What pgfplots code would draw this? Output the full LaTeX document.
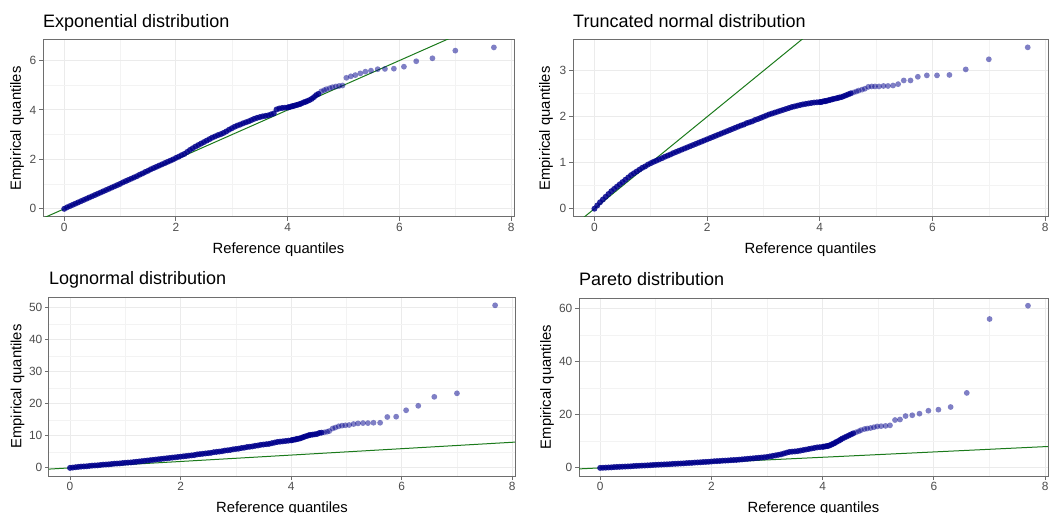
\documentclass[border=0pt]{standalone}
\usepackage{fontspec}
\setmainfont{Liberation Sans}
\usepackage{pgfplots}
\usepackage{pgfplotstable}
\pgfplotsset{compat=1.18}

\definecolor{ptblue}{HTML}{00008B}
\definecolor{qqgreen}{HTML}{1B7A1B}
\definecolor{frame}{HTML}{6E6E6E}
\definecolor{gridmaj}{HTML}{EBEBEB}
\definecolor{gridmin}{HTML}{F3F3F3}
\definecolor{ticktxt}{HTML}{4D4D4D}

% x = reference quantile, then empirical quantiles of the four samples
\pgfplotstableread{
x     expo  tnorm  lnorm  pareto
7.69  6.53  3.51   50.8   61.0
7.00  6.40  3.25   23.3   56.0
6.59  6.09  3.03   22.2   28.2
6.30  5.97  2.91   19.4   22.9
6.08  5.75  2.90   18.0   21.9
5.90  5.67  2.90   16.0   21.5
5.74  5.66  2.87   15.9   20.4
5.61  5.65  2.79   14.1   19.8
5.49  5.59  2.79   14.1   19.5
5.39  5.55  2.71   14.0   18.2
5.30  5.48  2.68   14.0   18.0
5.21  5.41  2.67   13.9   16.0
5.13  5.36  2.67   13.7   15.8
5.05  5.30  2.66   13.4   15.7
4.98  4.99  2.66   13.3   15.6
4.92  4.97  2.66   13.2   15.3
4.86  4.95  2.65   13.0   15.0
4.80  4.92  2.61   12.6   14.8
4.75  4.88  2.59   12.3   14.6
4.69  4.84  2.57   11.5   14.2
4.65  4.80  2.55   11.3   13.8
4.60  4.75  2.53   11.1   13.4
4.55  4.65  2.51   11.0   13.0
4.51  4.60  2.49   10.9   12.6
4.47  4.52  2.47   10.6   12.2
4.43  4.45  2.45   10.5   11.8
4.39  4.40  2.43   10.4   11.4
4.35  4.36  2.42   10.3   11.0
4.32  4.33  2.41   10.2   10.6
4.29  4.31  2.40   10.0   10.2
4.25  4.27  2.39   9.8    9.8
4.22  4.24  2.38   9.6    9.4
4.19  4.22  2.37   9.4    9.1
4.16  4.20  2.36   9.2    8.8
4.13  4.18  2.35   9.1    8.5
4.10  4.16  2.34   9.0    8.3
4.08  4.15  2.34   8.9    8.2
4.05  4.13  2.33   8.8    8.1
4.02  4.11  2.32   8.7    8.0
4.00  4.10  2.32   8.6    7.9
3.95  4.09  2.315  8.5    7.8
3.90  4.08  2.31   8.4    7.7
3.85  4.06  2.30   8.3    7.5
3.80  4.02  2.29   8.2    7.3
3.75  3.86  2.28   8.1    7.1
3.70  3.82  2.27   7.9    6.9
3.65  3.78  2.255  7.7    6.7
3.60  3.76  2.24   7.5    6.5
3.55  3.74  2.225  7.4    6.3
3.50  3.71  2.21   7.3    6.2
3.45  3.68  2.19   7.2    6.1
3.40  3.64  2.17   7.0    6.0
3.35  3.59  2.15   6.9    5.7
3.30  3.54  2.13   6.7    5.4
3.25  3.50  2.11   6.6    5.1
3.20  3.46  2.09   6.5    4.9
3.15  3.41  2.07   6.3    4.7
3.10  3.37  2.05   6.2    4.5
3.05  3.32  2.025  6.0    4.3
3.00  3.26  2.00   5.9    4.1
2.95  3.20  1.975  5.8    4.0
2.90  3.13  1.95   5.6    3.9
2.85  3.07  1.93   5.5    3.8
2.80  3.02  1.90   5.4    3.7
2.75  2.98  1.88   5.2    3.6
2.70  2.93  1.86   5.1    3.5
2.65  2.88  1.83   5.0    3.4
2.60  2.82  1.81   4.9    3.3
2.55  2.76  1.785  4.7    3.2
2.50  2.70  1.76   4.6    3.1
2.45  2.64  1.735  4.5    3.0
2.40  2.58  1.71   4.4    2.95
2.35  2.52  1.685  4.3    2.9
2.30  2.45  1.66   4.2    2.8
2.25  2.38  1.635  4.0    2.75
2.20  2.30  1.61   3.9    2.7
2.15  2.22  1.585  3.8    2.6
2.10  2.17  1.56   3.7    2.55
2.05  2.11  1.535  3.6    2.5
2.00  2.06  1.51   3.5    2.4
1.95  2.00  1.485  3.4    2.3
1.90  1.95  1.46   3.3    2.25
1.85  1.90  1.435  3.2    2.2
1.80  1.85  1.41   3.1    2.1
1.75  1.80  1.385  3.0    2.05
1.70  1.75  1.36   2.9    2.0
1.65  1.70  1.335  2.8    1.9
1.60  1.65  1.31   2.7    1.85
1.55  1.60  1.285  2.6    1.8
1.50  1.54  1.26   2.5    1.7
1.45  1.49  1.235  2.4    1.65
1.40  1.43  1.21   2.3    1.6
1.35  1.38  1.18   2.2    1.55
1.30  1.32  1.155  2.1    1.5
1.25  1.27  1.13   2.0    1.4
1.20  1.22  1.10   1.9    1.35
1.15  1.17  1.075  1.8    1.3
1.10  1.12  1.045  1.7    1.25
1.05  1.07  1.02   1.65   1.2
1.00  1.01  0.99   1.6    1.15
0.95  0.96  0.96   1.5    1.1
0.90  0.91  0.92   1.4    1.0
0.85  0.86  0.89   1.35   0.95
0.80  0.81  0.85   1.3    0.9
0.75  0.76  0.81   1.2    0.85
0.70  0.71  0.77   1.1    0.8
0.65  0.66  0.73   1.05   0.75
0.60  0.61  0.68   1.0    0.7
0.55  0.56  0.63   0.9    0.6
0.50  0.51  0.58   0.8    0.55
0.45  0.46  0.53   0.75   0.5
0.40  0.41  0.48   0.7    0.45
0.35  0.36  0.43   0.6    0.4
0.30  0.31  0.38   0.5    0.35
0.25  0.26  0.32   0.45   0.3
0.20  0.21  0.26   0.4    0.2
0.15  0.16  0.20   0.3    0.15
0.10  0.11  0.14   0.2    0.1
0.05  0.06  0.07   0.1    0.05
0.00  0.00  0.00   0.0    0.0
}\qqdata

\pgfplotsset{
  qq/.style={
    scale only axis,
    axis line style={draw=frame, line width=1pt},
    tick align=outside,
    tick pos=left,
    major tick length=4pt,
    minor tick length=0pt,
    tick style={color=frame, line width=1pt},
    minor tick num=1,
    grid=both,
    major grid style={color=gridmaj, line width=1pt},
    minor grid style={color=gridmin, line width=0.6pt},
    xmin=-0.38, xmax=8.05,
    xtick={0,2,4,6,8},
    /pgf/number format/assume math mode=true,
    ticklabel style={font=\fontsize{11.9}{13}\selectfont, color=ticktxt},
    xticklabel style={inner sep=2pt},
    yticklabel style={inner sep=2.5pt},
    xlabel={Reference quantiles},
    ylabel={Empirical quantiles},
    label style={font=\fontsize{14.8}{17}\selectfont},
    xlabel style={at={(axis description cs:0.5,0)}, anchor=center, yshift=-33pt},
    title style={at={(axis description cs:0,1)}, anchor=base west, inner sep=0pt,
      yshift=6.3pt, font=\fontsize{18}{21}\selectfont},
    anchor=south west,
  },
  % dense body of the sample: many overlapping points, drawn nearly opaque
  dense/.style={only marks, mark=*, mark size=3pt, restrict x to domain=-1:4.58,
    mark options={fill=ptblue, draw opacity=0, fill opacity=0.85}},
  % sparse upper tail
  tail/.style={only marks, mark=*, mark size=2.9pt, restrict x to domain=4.58:10,
    mark options={fill=ptblue, draw opacity=0, fill opacity=0.5}},
  refline/.style={no marks, draw=qqgreen, line width=1pt},
}

\begin{document}
\begin{tikzpicture}
\useasboundingbox (0pt,0pt) rectangle (1050pt,512pt);

\begin{axis}[qq, at={(43pt,295pt)}, width=471pt, height=177pt,
  title={Exponential distribution},
  ymin=-0.33, ymax=6.83, ytick={0,2,4,6},
  ylabel style={at={(axis description cs:0,0.5)}, anchor=center, yshift=26pt}]
\addplot[dense] table[x=x, y=expo] {\qqdata};
\addplot[tail] table[x=x, y=expo] {\qqdata};
\addplot[refline] coordinates {(-1,-1) (10,10)};
\end{axis}

\begin{axis}[qq, at={(573pt,295pt)}, width=475pt, height=177pt,
  title={Truncated normal distribution},
  ymin=-0.18, ymax=3.67, ytick={0,1,2,3},
  ylabel style={at={(axis description cs:0,0.5)}, anchor=center, yshift=27pt}]
\addplot[dense] table[x=x, y=tnorm] {\qqdata};
\addplot[tail] table[x=x, y=tnorm] {\qqdata};
\addplot[refline] coordinates {(-1,-1) (10,10)};
\end{axis}

\begin{axis}[qq, at={(49pt,36pt)}, width=466pt, height=179pt,
  title={Lognormal distribution},
  ymin=-2.54, ymax=53.4, ytick={0,10,20,30,40,50},
  ylabel style={at={(axis description cs:0,0.5)}, anchor=center, yshift=31.5pt}]
\addplot[dense] table[x=x, y=lnorm] {\qqdata};
\addplot[tail] table[x=x, y=lnorm] {\qqdata};
\addplot[refline] coordinates {(-1,-1) (10,10)};
\end{axis}

\begin{axis}[qq, at={(579pt,36pt)}, width=469pt, height=178pt,
  title={Pareto distribution},
  ymin=-3.05, ymax=63.9, ytick={0,20,40,60},
  ylabel style={at={(axis description cs:0,0.5)}, anchor=center, yshift=32pt}]
\addplot[dense] table[x=x, y=pareto] {\qqdata};
\addplot[tail] table[x=x, y=pareto] {\qqdata};
\addplot[refline] coordinates {(-1,-1) (10,10)};
\end{axis}
\end{tikzpicture}
\end{document}
